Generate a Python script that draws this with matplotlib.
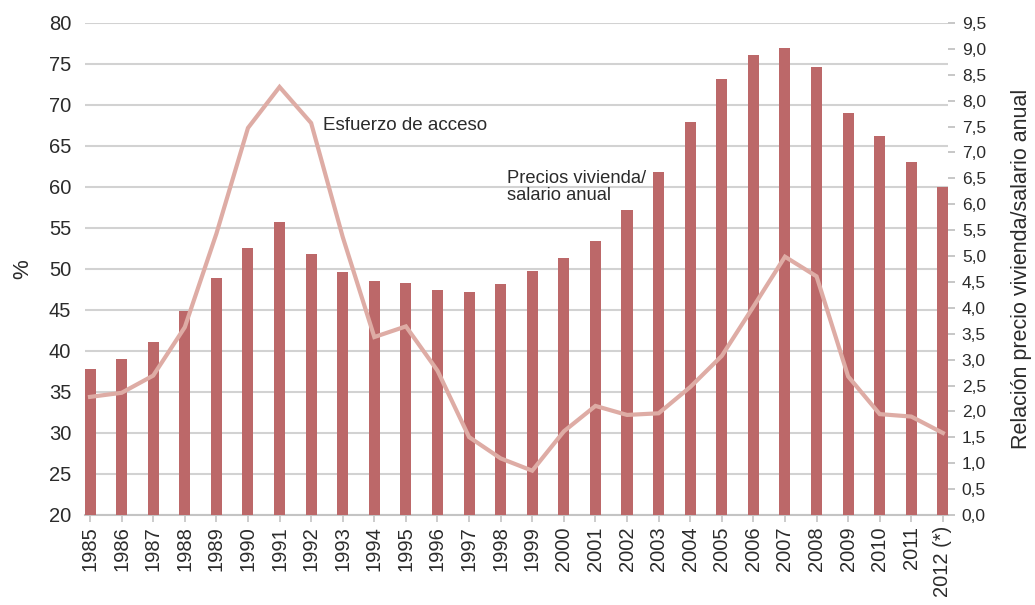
import matplotlib.pyplot as plt
import numpy as np

plt.rcParams['font.family'] = ['Liberation Sans', 'DejaVu Sans']

# Años (2012 provisional)
years = ['1985', '1986', '1987', '1988', '1989', '1990', '1991', '1992', '1993',
         '1994', '1995', '1996', '1997', '1998', '1999', '2000', '2001', '2002',
         '2003', '2004', '2005', '2006', '2007', '2008', '2009', '2010', '2011',
         '2012 (*)']

# Relación precio vivienda / salario anual (eje derecho)
price_wage = [2.82, 3.01, 3.34, 3.94, 4.58, 5.16, 5.65, 5.03, 4.70,
              4.52, 4.48, 4.34, 4.31, 4.46, 4.71, 4.96, 5.29, 5.89,
              6.62, 7.59, 8.42, 8.88, 9.01, 8.65, 7.76, 7.32, 6.82,
              6.33]

# Esfuerzo de acceso, % (eje izquierdo)
effort = [34.4, 34.9, 37.0, 42.9, 54.3, 67.2, 72.2, 67.8, 53.9,
          41.7, 43.0, 37.6, 29.5, 26.9, 25.4, 30.2, 33.3, 32.2,
          32.4, 35.6, 39.4, 45.4, 51.5, 49.1, 36.9, 32.3, 32.0,
          30.0]

bar_color = '#bc6869'
line_color = '#deaca5'
grid_color = '#d2d2d2'
text_color = '#2b2b2b'

fig = plt.figure(figsize=(10.35, 6.05), dpi=100)
ax = fig.add_axes([0.0821, 0.1488, 0.8338, 0.8132])
x = np.arange(len(years))

# left axis: percentage scale and gridlines
ax.set_ylim(20, 80)
ax.set_yticks(np.arange(20, 81, 5))
ax.yaxis.grid(True, color=grid_color, linewidth=1.5)
ax.set_axisbelow(True)
ax.tick_params(axis='y', length=0, pad=10, labelsize=14.5, labelcolor=text_color)
ax.set_ylabel('%', fontsize=16, color=text_color, labelpad=11)
ax.set_xlim(-0.16, len(years) - 1 + 0.16)
ax.set_xticks(x)
ax.set_xticklabels(years, rotation=90, fontsize=14.5, color=text_color)
ax.tick_params(axis='x', length=5, width=1.2, color='#c4c4c4', pad=3)
for side in ['top', 'left', 'right']:
    ax.spines[side].set_visible(False)
ax.spines['bottom'].set_color('#c4c4c4')
ax.spines['bottom'].set_linewidth(1.5)

# right axis: price/wage bars
ax2 = ax.twinx()
ax2.bar(x, price_wage, width=0.35, color=bar_color, zorder=2)
ax2.set_ylim(0, 9.5)
ax2.set_yticks(np.arange(0, 9.51, 0.5))
ax2.set_yticklabels([f'{v:.1f}'.replace('.', ',') for v in np.arange(0, 9.51, 0.5)])
ax2.tick_params(axis='y', length=5, width=1.2, color='#bdbdbd', pad=5,
                labelsize=12.5, labelcolor=text_color)
ax2.set_ylabel('Relación precio vivienda/salario anual', fontsize=15.5,
               color=text_color, labelpad=18)
for side in ax2.spines:
    ax2.spines[side].set_visible(False)

# effort line on top of the bars, same % scale as the left axis
ax3 = ax.twinx()
ax3.set_ylim(ax.get_ylim())
ax3.plot(x, effort, color=line_color, linewidth=3, solid_joinstyle='miter', zorder=3)
ax3.axis('off')

ax3.text(7.37, 67.0, 'Esfuerzo de acceso', fontsize=13.5, color=text_color,
         va='baseline')
ax3.text(13.19, 58.4, 'Precios vivienda/\nsalario anual', fontsize=13.2,
         color=text_color, va='baseline', linespacing=1.0)

fig.savefig('out.png', dpi=100)
